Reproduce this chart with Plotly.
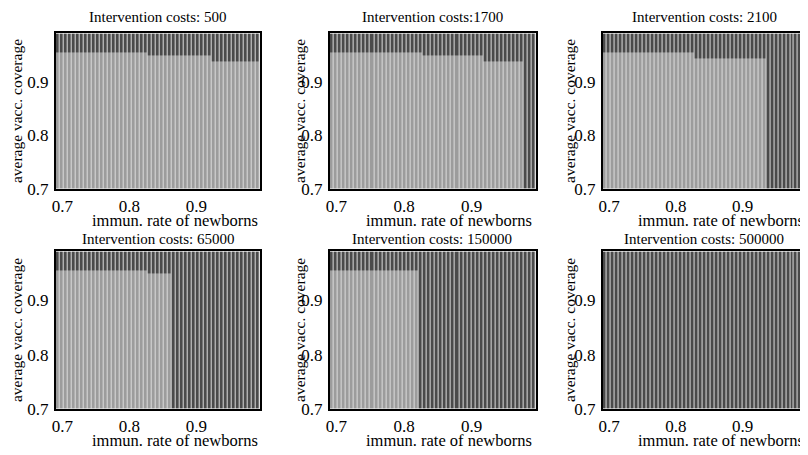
import numpy as np
import plotly.graph_objects as go

# ---- data ----
titles = ["Intervention costs: 500", "Intervention costs:1700", "Intervention costs: 2100",
          "Intervention costs: 65000", "Intervention costs: 150000", "Intervention costs: 500000"]
# light ("feasible") region: segments (x_from, x_to, upper coverage limit)
region_500 = [(0.69, 0.829, 0.954), (0.829, 0.921, 0.947), (0.921, 1.00, 0.940)]
region_1700 = [(0.69, 0.826, 0.954), (0.826, 0.918, 0.947), (0.918, 0.978, 0.940)]
region_2100 = [(0.69, 0.826, 0.953), (0.826, 0.922, 0.946), (0.922, 0.933, 0.942)]
region_65000 = [(0.69, 0.826, 0.954), (0.826, 0.862, 0.947)]
region_150000 = [(0.69, 0.823, 0.954)]
region_500000 = []
regions = [region_500, region_1700, region_2100, region_65000, region_150000, region_500000]

x_ticks = [0.7, 0.8, 0.9]
y_ticks = [0.7, 0.8, 0.9]
x_range = [0.69, 0.995]
y_range = [0.70, 0.99]

# sampling grid of the parameter sweep
nx, ny = 51, 50
xs = x_range[0] + (np.arange(nx) + 0.5) * (x_range[1] - x_range[0]) / nx
ys = y_range[0] + (np.arange(ny) + 0.5) * (y_range[1] - y_range[0]) / ny

# page has an 8px body margin: work in page pixels, convert to figure pixels
OFF = 8
W, H = 808 - OFF, 455 - OFF
col_px = [(52, 258), (328, 536), (603, 808)]
row_px = [(34, 193), (257, 418)]
title_y = [17, 244]
ytitle_x = [12, 297, 569]


def px(v):
    return (v - OFF) / W


def py(v):
    return 1 - (v - OFF) / H


FONT = "'Liberation Serif', 'Times New Roman', Times, 'DejaVu Serif', serif"
fig = go.Figure()

for k in range(6):
    r, c = divmod(k, 3)
    z = np.zeros((ny, nx))
    for (x0, x1, ytop) in regions[k]:
        for j, xv in enumerate(xs):
            if x0 <= xv < x1:
                z[ys < ytop, j] = 1
    ax = "" if k == 0 else str(k + 1)
    fig.add_trace(go.Heatmap(
        x=xs, y=ys, z=z, zmin=0, zmax=1,
        colorscale=[[0, "#4a4a4a"], [1, "#9c9c9c"]],
        showscale=False, xgap=1, ygap=0,
        xaxis="x" + ax, yaxis="y" + ax, hoverinfo="skip"))
    xd = [px(col_px[c][0]), min(1.0, px(col_px[c][1]))]
    yd = [py(row_px[r][1]), py(row_px[r][0])]
    fig.layout["xaxis" + ax] = dict(
        domain=xd, range=x_range, anchor="y" + ax, tickvals=x_ticks,
        ticktext=[f"{v:.1f}" for v in x_ticks], showgrid=False, zeroline=False,
        showline=True, mirror=True, linecolor="black", linewidth=1.5, ticks="",
        ticklabelstandoff=1,
        tickfont=dict(family=FONT, size=17, color="black"))
    fig.layout["yaxis" + ax] = dict(
        domain=yd, range=y_range, anchor="x" + ax, tickvals=y_ticks,
        ticktext=[f"{v:.1f}" for v in y_ticks], showgrid=False, zeroline=False,
        showline=True, mirror=True, linecolor="black", linewidth=1.5, ticks="",
        ticklabelstandoff=2,
        tickfont=dict(family=FONT, size=17, color="black"))
    cx = (col_px[c][0] + min(col_px[c][1], col_px[c][0] + 207)) / 2
    cy = (row_px[r][0] + row_px[r][1]) / 2
    fig.add_annotation(x=px(cx), y=py(title_y[r]), xref="paper", yref="paper",
                       text=titles[k], showarrow=False, xanchor="center", yanchor="middle",
                       font=dict(family=FONT, size=15, color="black"))
    fig.add_annotation(x=px(cx + 17), y=py(row_px[r][1] + 32), xref="paper", yref="paper",
                       text="immun. rate of newborns", showarrow=False, xanchor="center",
                       yanchor="middle", font=dict(family=FONT, size=16.5, color="black"))
    fig.add_annotation(x=px(ytitle_x[c]), y=py(cy), xref="paper", yref="paper",
                       text="average vacc. coverage", showarrow=False, textangle=-90,
                       xanchor="center", yanchor="middle",
                       font=dict(family=FONT, size=15.5, color="black"))

fig.update_layout(width=W, height=H, margin=dict(l=0, r=0, t=0, b=0),
                  font=dict(family=FONT, color="black"),
                  paper_bgcolor="white", plot_bgcolor="#dcdcdc", showlegend=False)
fig.write_html("out.html")
